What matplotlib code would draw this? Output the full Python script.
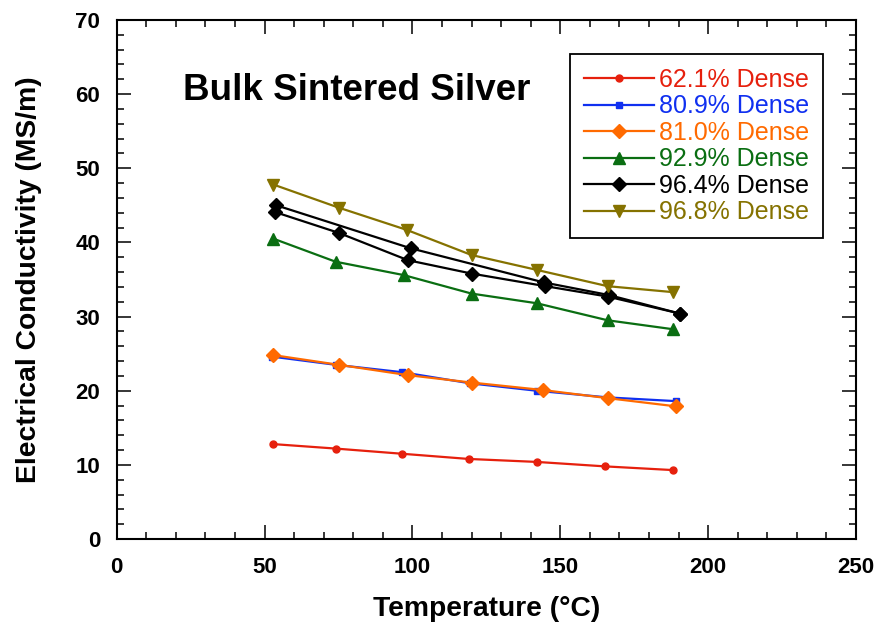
import numpy as np
import matplotlib.pyplot as plt
from matplotlib.ticker import MultipleLocator

plt.rcParams['font.family'] = ['Liberation Sans', 'DejaVu Sans']

# temperature (C) and conductivity (MS/m) for each density
t_621 = [53, 74, 96.5, 119, 142, 165, 188]
s_621 = [12.8, 12.2, 11.5, 10.8, 10.4, 9.8, 9.3]

t_809 = [52.5, 74, 96.5, 119.5, 142, 166, 189]
s_809 = [24.6, 23.5, 22.5, 21.0, 20.0, 19.1, 18.6]

t_810 = [53, 75, 98.5, 120, 144, 166, 189]
s_810 = [24.8, 23.5, 22.1, 21.1, 20.1, 19.0, 17.9]

t_929 = [53, 74, 97, 120, 142, 166, 188]
s_929 = [40.5, 37.4, 35.6, 33.1, 31.8, 29.5, 28.3]

# 96.4% sample was measured twice
t_964a = [54, 99.5, 144.5, 166.5, 190.5]
s_964a = [45.0, 39.2, 34.6, 32.9, 30.4]
t_964b = [53.5, 75, 98.5, 120, 145, 166, 190.5]
s_964b = [44.1, 41.3, 37.6, 35.8, 34.1, 32.7, 30.4]

t_968 = [53, 75, 98, 120, 142, 166, 188]
s_968 = [47.8, 44.7, 41.7, 38.3, 36.3, 34.1, 33.3]

fig = plt.figure(figsize=(8.81, 6.30), dpi=100)
ax = fig.add_axes([0.1325, 0.1444, 0.8391, 0.8239])

lw = 1.6
ax.plot(t_621, s_621, color='#E6200D', lw=lw, marker='o', ms=5, label='62.1% Dense')
ax.plot(t_809, s_809, color='#1030F0', lw=lw, marker='s', ms=5, label='80.9% Dense')
ax.plot(t_810, s_810, color='#FF6A00', lw=lw, marker='D', ms=7, label='81.0% Dense')
ax.plot(t_929, s_929, color='#0A6E12', lw=lw, marker='^', ms=9, label='92.9% Dense')
ax.plot(t_964a, s_964a, color='black', lw=lw, marker='D', ms=7, label='96.4% Dense')
ax.plot(t_964b, s_964b, color='black', lw=lw, marker='D', ms=7)
ax.plot(t_968, s_968, color='#857200', lw=lw, marker='v', ms=9, label='96.8% Dense')

ax.set_xlim(0, 250)
ax.set_ylim(0, 70)
ax.xaxis.set_major_locator(MultipleLocator(50))
ax.xaxis.set_minor_locator(MultipleLocator(10))
ax.yaxis.set_major_locator(MultipleLocator(10))
ax.yaxis.set_minor_locator(MultipleLocator(2))
ax.tick_params(which='both', direction='in', top=True, right=True, width=1.1)
ax.tick_params(which='major', length=10)
ax.tick_params(which='minor', length=5)
ax.tick_params(axis='x', which='major', pad=13, labelsize=16)
ax.tick_params(axis='y', which='major', pad=12, labelsize=16)
for lab in ax.get_xticklabels() + ax.get_yticklabels():
    lab.set_fontweight('bold')
for sp in ax.spines.values():
    sp.set_linewidth(1.5)

ax.set_xlabel('Temperature (°C)', fontsize=20.3, fontweight='bold', labelpad=13)
ax.set_ylabel('Electrical Conductivity (MS/m)', fontsize=20.3, fontweight='bold', labelpad=24)

ax.text(0.09, 0.865, 'Bulk Sintered Silver', transform=ax.transAxes,
        fontsize=26.5, fontweight='bold', va='center', ha='left')

leg = ax.legend(loc='upper right', bbox_to_anchor=(0.955, 0.934), fontsize=18,
                fancybox=False, framealpha=1, edgecolor='black',
                handlelength=2.8, labelspacing=0.1, borderpad=0.55,
                handletextpad=0.2, borderaxespad=0)
leg.get_frame().set_linewidth(1.3)
for txt, line in zip(leg.get_texts(), leg.get_lines()):
    txt.set_color(line.get_color())

fig.savefig('out.png', dpi=100)
